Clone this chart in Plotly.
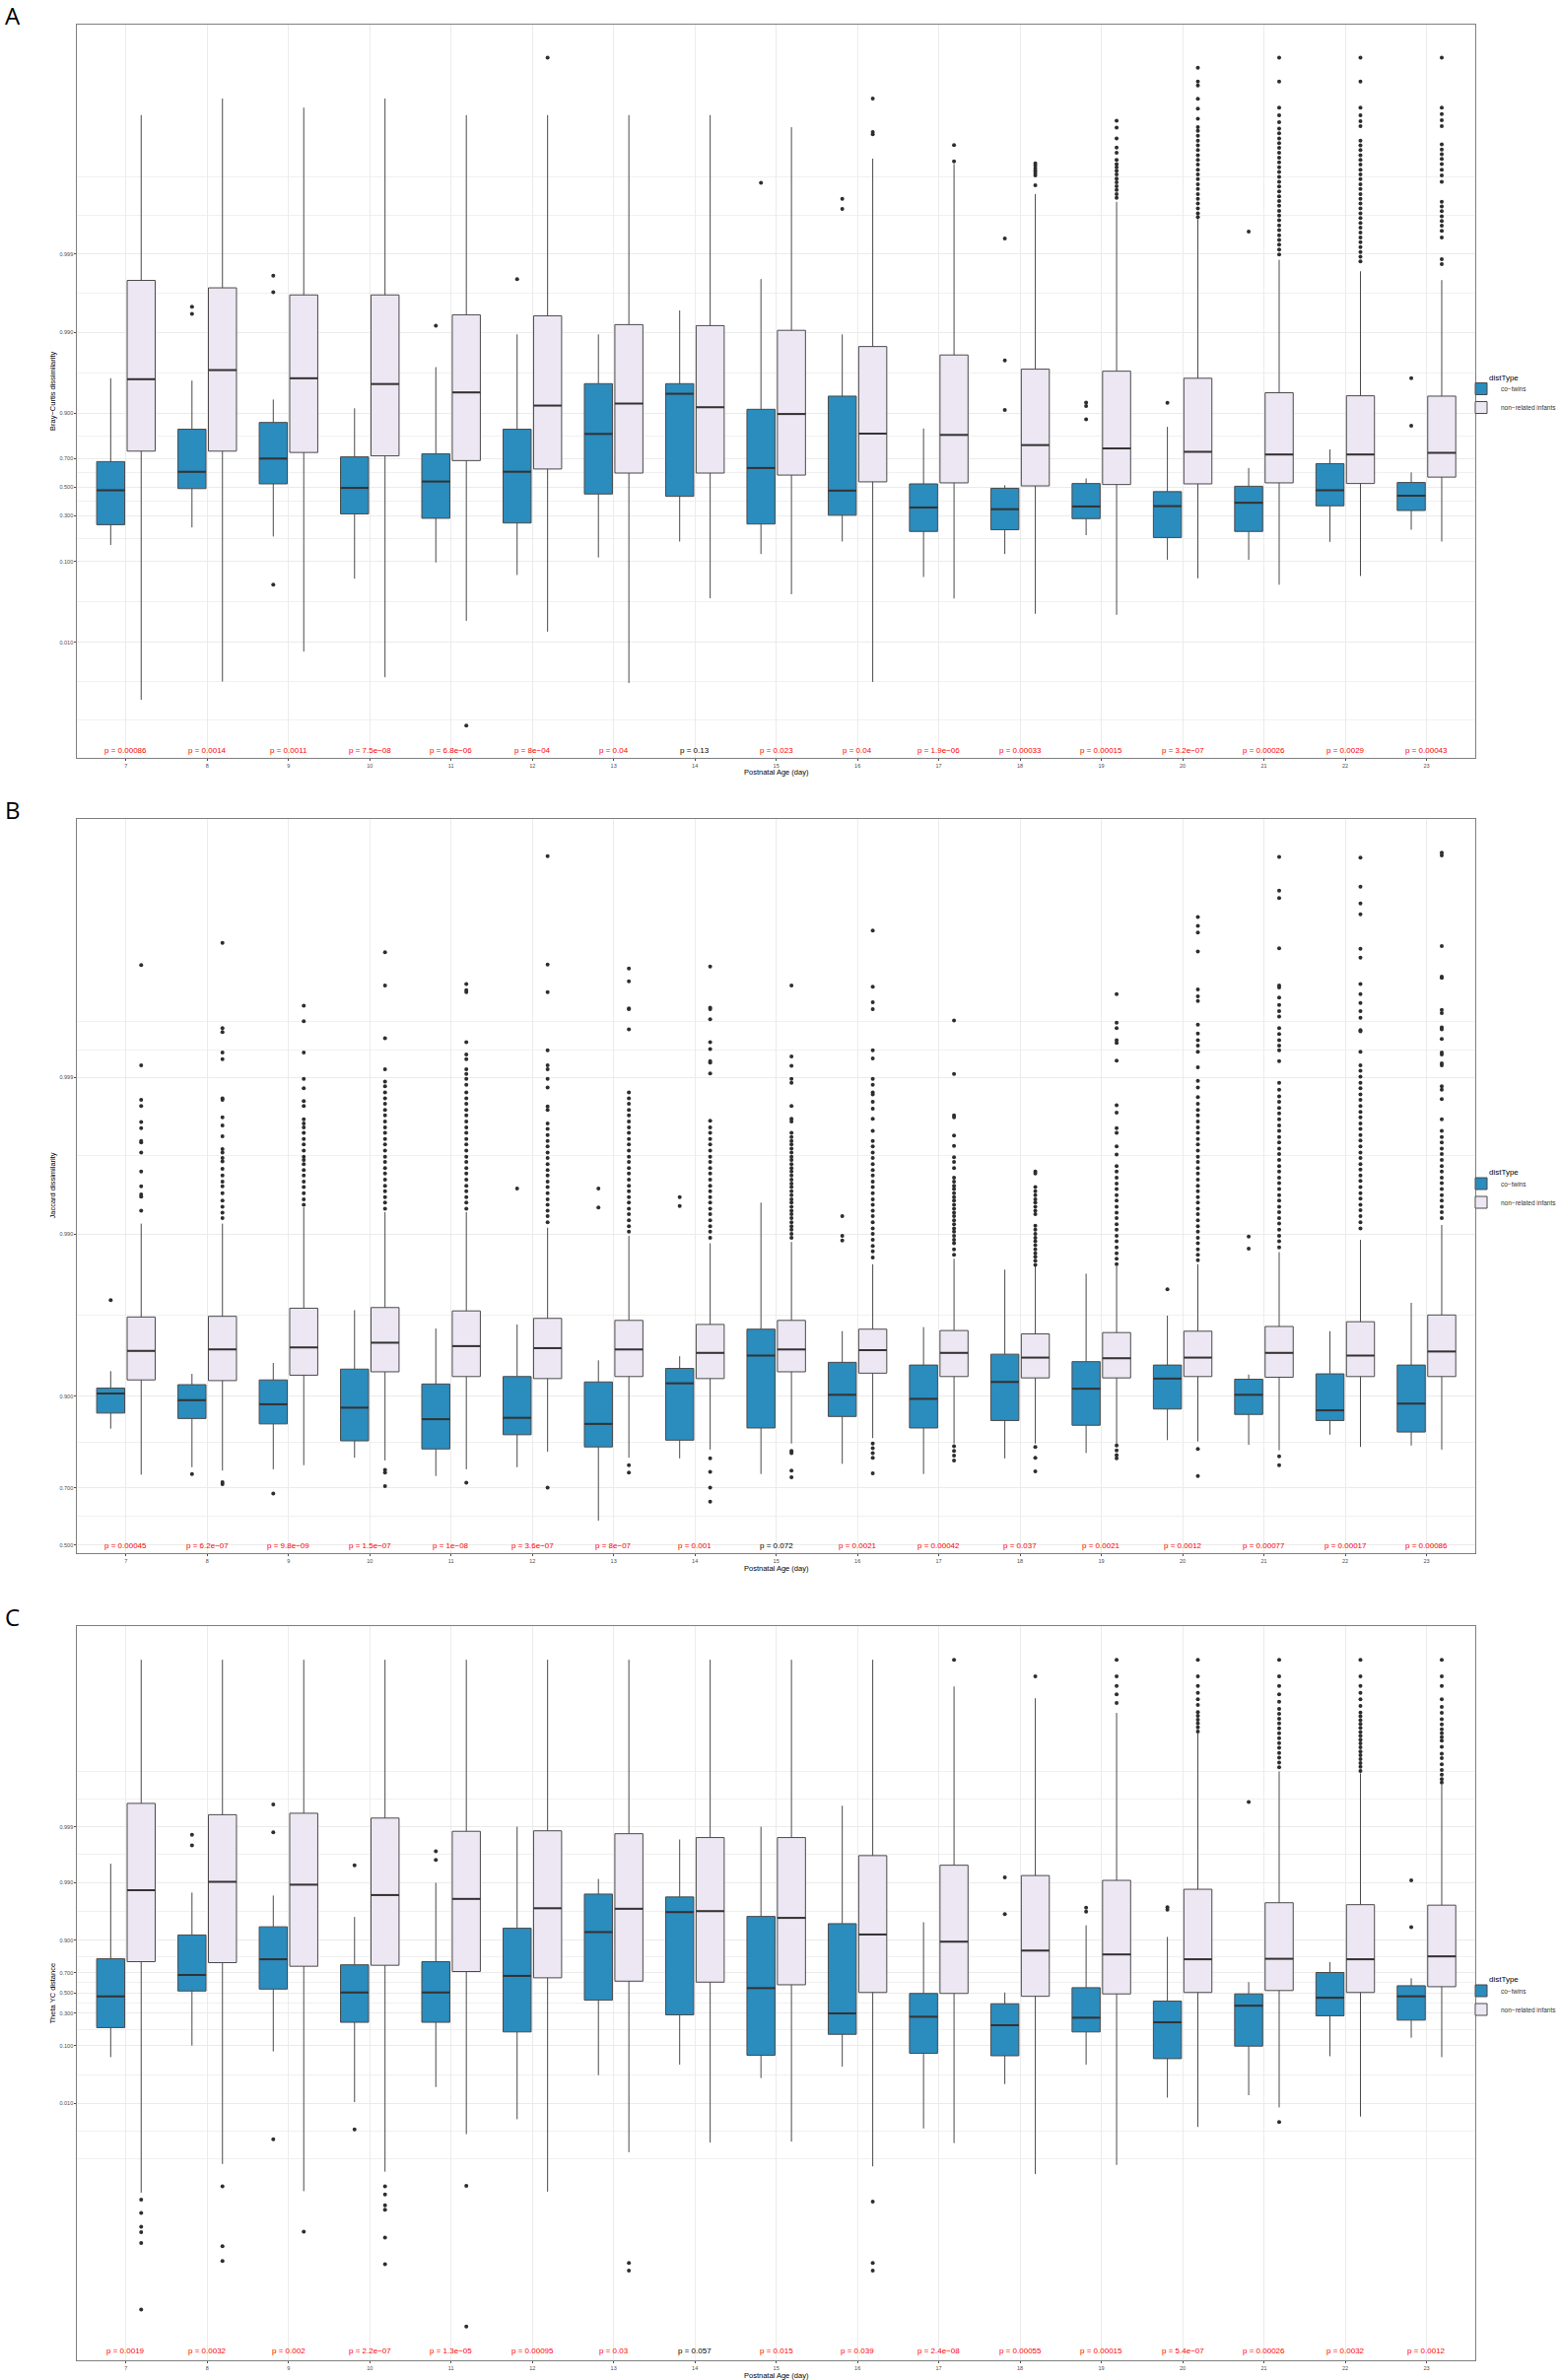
import numpy as np
import plotly.graph_objects as go

days = list(range(7, 24))
groups = ["co−twins", "non−related infants"]
group_fill = ["#2B8CBE", "#ECE7F2"]

# Box statistics are read on the logit axis, i.e. log(d / (1 - d))

# ---- A: Bray-Curtis dissimilarity ----
bc_twin_hi = [3.23, 3.16, 2.60, 2.34, 3.56, 4.53, 4.53, 5.24, 6.17, 4.53, 1.74, 0.06, 0.26, 1.79, 0.57, 1.12, 0.44]
bc_twin_q3 = [0.76, 1.72, 1.92, 0.90, 0.99, 1.72, 3.07, 3.07, 2.31, 2.70, 0.10, -0.03, 0.11, -0.13, 0.03, 0.70, 0.14]
bc_twin_med = [-0.09, 0.46, 0.85, -0.02, 0.17, 0.46, 1.58, 2.77, 0.57, -0.10, -0.60, -0.65, -0.57, -0.56, -0.46, -0.09, -0.25]
bc_twin_q1 = [-1.11, -0.04, 0.10, -0.79, -0.92, -1.06, -0.20, -0.27, -1.09, -0.83, -1.31, -1.26, -0.93, -1.49, -1.31, -0.55, -0.69]
bc_twin_lo = [-1.71, -1.19, -1.46, -2.71, -2.23, -2.60, -2.08, -1.61, -1.98, -1.61, -2.66, -1.98, -1.42, -2.15, -2.15, -1.62, -1.26]
bc_twin_out = [[], [5.35, 5.14], [6.27, 5.78, -2.89], [], [4.79], [6.17], [], [], [9.02], [8.55, 8.25],
               [], [7.37, 3.76, 2.29], [2.51, 2.41, 2.01], [2.50], [7.58], [], [3.23, 1.82]]

bc_other_hi = [11.03, 11.52, 11.25, 11.52, 11.03, 11.03, 11.03, 11.03, 10.67, 9.74, 9.58, 8.69, 8.46, 7.95, 6.74, 6.40, 6.14]
bc_other_q3 = [6.13, 5.91, 5.70, 5.70, 5.11, 5.08, 4.82, 4.79, 4.65, 4.17, 3.92, 3.50, 3.44, 3.23, 2.80, 2.71, 2.70]
bc_other_med = [3.20, 3.47, 3.23, 3.06, 2.81, 2.42, 2.48, 2.37, 2.17, 1.59, 1.55, 1.25, 1.15, 1.05, 0.97, 0.97, 1.02]
bc_other_q1 = [1.07, 1.07, 1.03, 0.93, 0.79, 0.54, 0.42, 0.42, 0.36, 0.16, 0.13, 0.04, 0.08, 0.10, 0.13, 0.11, 0.30]
bc_other_lo = [-6.30, -5.76, -4.87, -5.63, -3.96, -4.28, -5.80, -3.29, -3.17, -5.77, -3.30, -3.75, -3.78, -2.70, -2.89, -2.63, -1.61]
bc_other_out = [
    [], [], [], [], [-7.06], [12.73], [], [], [],
    [11.52, 10.53, 10.46],
    [10.14, 9.66],
    [9.60, 9.53, 9.45, 9.38, 9.31, 9.24, 8.95],
    [10.86, 10.66, 10.34, 10.07, 9.91, 9.70, 9.58, 9.48, 9.38, 9.27, 9.15, 9.04, 8.92, 8.81, 8.69, 8.58],
    [12.43, 12.02, 11.91, 11.51, 11.22, 10.92, 10.67, 10.56, 10.42, 10.27, 10.13, 9.99, 9.84, 9.70, 9.56,
     9.41, 9.27, 9.13, 8.98, 8.84, 8.69, 8.55, 8.41, 8.26, 8.12, 8.01],
    [12.73, 12.02, 11.25, 11.02, 10.82, 10.63, 10.49, 10.34, 10.20, 10.06, 9.91, 9.77, 9.63, 9.48, 9.34, 9.20,
     9.05, 8.91, 8.77, 8.62, 8.48, 8.34, 8.19, 8.05, 7.91, 7.76, 7.62, 7.47, 7.33, 7.19, 7.04, 6.90],
    [12.73, 12.02, 11.25, 11.02, 10.85, 10.70, 10.27, 10.13, 9.99, 9.84, 9.70, 9.56, 9.41, 9.27, 9.13, 8.98,
     8.84, 8.69, 8.55, 8.41, 8.26, 8.12, 7.98, 7.83, 7.69, 7.55, 7.40, 7.26, 7.12, 6.97, 6.83, 6.69],
    [12.73, 11.25, 11.06, 10.88, 10.70, 10.16, 10.01, 9.87, 9.73, 9.58, 9.41, 9.24, 9.05, 8.46, 8.32, 8.18,
     8.03, 7.89, 7.75, 7.60, 7.40, 6.76, 6.61],
]
bc_pvalues = ["p = 0.00086", "p = 0.0014", "p = 0.0011", "p = 7.5e−08", "p = 6.8e−06", "p = 8e−04",
              "p = 0.04", "p = 0.13", "p = 0.023", "p = 0.04", "p = 1.9e−06", "p = 0.00033",
              "p = 0.00015", "p = 3.2e−07", "p = 0.00026", "p = 0.0029", "p = 0.00043"]

# ---- B: Jaccard dissimilarity ----
jac_twin_hi = [2.57, 2.53, 2.69, 3.47, 3.20, 3.26, 2.73, 2.79, 5.06, 3.16, 3.22, 4.07, 4.01, 3.39, 2.52, 3.16, 3.58]
jac_twin_q3 = [2.32, 2.37, 2.44, 2.60, 2.38, 2.49, 2.41, 2.61, 3.19, 2.70, 2.66, 2.82, 2.71, 2.66, 2.45, 2.53, 2.66]
jac_twin_med = [2.24, 2.14, 2.08, 2.03, 1.86, 1.88, 1.79, 2.39, 2.80, 2.22, 2.16, 2.41, 2.31, 2.46, 2.22, 1.99, 2.09]
jac_twin_q1 = [1.95, 1.87, 1.79, 1.54, 1.42, 1.63, 1.45, 1.55, 1.73, 1.90, 1.73, 1.84, 1.77, 2.01, 1.93, 1.84, 1.67]
jac_twin_lo = [1.72, 1.15, 1.12, 1.29, 1.02, 1.15, 0.36, 1.28, 1.05, 1.20, 1.05, 1.28, 1.36, 1.55, 1.48, 1.63, 1.47]
jac_twin_out = [[3.62], [1.05], [0.76], [], [], [5.27], [5.27, 4.99], [5.14, 5.01], [], [4.86, 4.57, 4.50],
                [], [], [], [3.78], [4.56, 4.38], [], []]

jac_other_hi = [4.75, 4.75, 4.99, 4.92, 4.92, 4.69, 4.57, 4.46, 4.48, 4.15, 4.23, 4.12, 4.12, 4.15, 4.33, 4.51, 4.73]
jac_other_q3 = [3.37, 3.38, 3.50, 3.51, 3.46, 3.35, 3.32, 3.26, 3.32, 3.19, 3.17, 3.12, 3.14, 3.16, 3.23, 3.30, 3.40]
jac_other_med = [2.87, 2.89, 2.92, 2.99, 2.94, 2.91, 2.89, 2.84, 2.89, 2.88, 2.84, 2.77, 2.76, 2.77, 2.84, 2.80, 2.86]
jac_other_q1 = [2.44, 2.43, 2.51, 2.56, 2.49, 2.46, 2.49, 2.46, 2.56, 2.54, 2.49, 2.47, 2.47, 2.49, 2.48, 2.49, 2.49]
jac_other_lo = [1.04, 1.10, 1.18, 1.25, 1.12, 1.38, 1.29, 1.41, 1.50, 1.58, 1.50, 1.50, 1.48, 1.53, 1.40, 1.45, 1.41]
jac_other_out = [
    [8.57, 7.09, 6.58, 6.49, 6.25, 6.16, 5.97, 5.95, 5.80, 5.52, 5.30, 5.18, 5.15, 4.94],
    [8.90, 7.64, 7.58, 7.28, 7.18, 6.60, 6.58, 6.32, 6.20, 6.04, 5.85, 5.80, 5.72, 5.67, 5.56, 5.46, 5.37,
     5.30, 5.20, 5.09, 5.00, 4.91, 4.83, 0.93, 0.90],
    [7.97, 7.74, 7.28, 6.89, 6.75, 6.56, 6.49, 6.29, 6.23, 6.17, 6.09, 6.00, 5.92, 5.83, 5.74, 5.69, 5.63,
     5.54, 5.46, 5.37, 5.29, 5.20, 5.11, 5.03],
    [8.76, 8.27, 7.49, 7.03, 6.85, 6.78, 6.69, 6.60, 6.52, 6.43, 6.35, 6.26, 6.17, 6.09, 6.00, 5.92, 5.83,
     5.74, 5.66, 5.57, 5.49, 5.40, 5.31, 5.23, 5.14, 5.06, 4.97, 1.11, 1.07, 0.87],
    [8.29, 8.20, 8.17, 7.43, 7.25, 7.18, 7.03, 6.96, 6.89, 6.80, 6.69, 6.60, 6.52, 6.43, 6.35, 6.26, 6.17,
     6.09, 6.00, 5.92, 5.83, 5.74, 5.66, 5.57, 5.49, 5.40, 5.31, 5.23, 5.14, 5.06, 4.97, 0.92],
    [10.18, 8.58, 8.17, 7.31, 7.09, 7.03, 6.89, 6.76, 6.48, 6.43, 6.23, 6.15, 6.06, 5.97, 5.89, 5.80, 5.72,
     5.63, 5.54, 5.46, 5.37, 5.29, 5.20, 5.11, 5.03, 4.94, 4.86, 4.77, 0.85],
    [8.52, 8.33, 7.93, 7.92, 7.62, 6.69, 6.60, 6.52, 6.43, 6.35, 6.26, 6.17, 6.09, 6.00, 5.92, 5.83, 5.74,
     5.66, 5.57, 5.49, 5.40, 5.31, 5.23, 5.14, 5.06, 4.97, 4.89, 4.80, 4.71, 4.63, 1.18, 1.07],
    [8.55, 7.94, 7.92, 7.77, 7.43, 7.33, 7.15, 7.13, 6.97, 6.27, 6.17, 6.09, 6.00, 5.92, 5.83, 5.74, 5.66,
     5.57, 5.49, 5.40, 5.31, 5.23, 5.14, 5.06, 4.97, 4.89, 4.80, 4.71, 4.63, 4.54, 1.28, 1.08, 0.85, 0.64],
    [8.27, 7.22, 7.08, 6.89, 6.83, 6.49, 6.30, 6.26, 6.09, 6.03, 5.97, 5.92, 5.86, 5.80, 5.74, 5.69, 5.63,
     5.57, 5.52, 5.46, 5.40, 5.34, 5.29, 5.23, 5.17, 5.11, 5.06, 5.00, 4.94, 4.89, 4.83, 4.77, 4.71, 4.66,
     4.60, 4.54, 1.39, 1.36, 1.10, 1.00],
    [9.08, 8.25, 8.02, 7.92, 7.31, 7.19, 6.89, 6.80, 6.69, 6.66, 6.55, 6.45, 6.30, 6.12, 5.97, 5.89, 5.80,
     5.72, 5.63, 5.54, 5.46, 5.37, 5.29, 5.20, 5.11, 5.03, 4.94, 4.86, 4.77, 4.68, 4.60, 4.51, 4.42, 4.34,
     4.25, 1.50, 1.43, 1.36, 1.29, 1.06],
    [7.75, 6.96, 6.35, 6.32, 6.05, 5.90, 5.73, 5.66, 5.57, 5.43, 5.37, 5.31, 5.26, 5.20, 5.14, 5.09, 5.03,
     4.97, 4.91, 4.86, 4.80, 4.74, 4.68, 4.63, 4.57, 4.51, 4.46, 4.37, 4.29, 1.46, 1.39, 1.32, 1.25],
    [5.52, 5.49, 5.29, 5.23, 5.17, 5.11, 5.06, 5.00, 4.94, 4.89, 4.72, 4.66, 4.60, 4.54, 4.49, 4.43, 4.37,
     4.31, 4.26, 4.20, 4.14, 1.45, 1.29, 1.09],
    [8.14, 7.72, 7.64, 7.46, 7.42, 7.16, 6.50, 6.39, 6.16, 6.09, 5.89, 5.77, 5.60, 5.52, 5.43, 5.34, 5.26,
     5.17, 5.09, 5.00, 4.91, 4.83, 4.74, 4.66, 4.57, 4.49, 4.40, 4.31, 4.23, 4.15, 1.47, 1.40, 1.33, 1.28],
    [9.28, 9.15, 9.05, 8.77, 8.21, 8.11, 8.04, 7.69, 7.56, 7.46, 7.38, 7.29, 7.06, 6.86, 6.76, 6.62, 6.52,
     6.43, 6.35, 6.26, 6.17, 6.09, 6.00, 5.92, 5.83, 5.74, 5.66, 5.57, 5.49, 5.40, 5.31, 5.23, 5.14, 5.06,
     4.97, 4.89, 4.80, 4.71, 4.63, 4.54, 4.46, 4.37, 4.29, 4.21, 1.42, 1.02],
    [10.17, 9.67, 9.56, 8.82, 8.27, 8.24, 8.09, 7.98, 7.89, 7.81, 7.64, 7.55, 7.46, 7.38, 7.31, 7.15, 6.83,
     6.73, 6.63, 6.55, 6.46, 6.38, 6.29, 6.20, 6.12, 6.03, 5.95, 5.86, 5.78, 5.69, 5.60, 5.52, 5.43, 5.35,
     5.26, 5.17, 5.09, 5.00, 4.92, 4.83, 4.75, 4.66, 4.57, 4.49, 4.40, 1.31, 1.18],
    [10.16, 9.73, 9.48, 9.32, 8.81, 8.68, 8.29, 8.14, 8.01, 7.89, 7.79, 7.61, 7.59, 7.29, 7.09, 7.01, 6.92,
     6.83, 6.75, 6.66, 6.58, 6.49, 6.40, 6.32, 6.23, 6.15, 6.06, 5.98, 5.89, 5.80, 5.72, 5.63, 5.55, 5.46,
     5.38, 5.29, 5.20, 5.12, 5.03, 4.95, 4.86, 4.77, 4.68],
    [10.23, 10.19, 8.85, 8.40, 8.38, 7.91, 7.86, 7.65, 7.62, 7.48, 7.28, 7.25, 7.12, 7.09, 6.78, 6.73, 6.59,
     6.29, 6.12, 6.03, 5.95, 5.86, 5.78, 5.69, 5.60, 5.52, 5.43, 5.35, 5.26, 5.17, 5.09, 5.00, 4.92, 4.83],
]
jac_pvalues = ["p = 0.00045", "p = 6.2e−07", "p = 9.8e−09", "p = 1.5e−07", "p = 1e−08", "p = 3.6e−07",
               "p = 8e−07", "p = 0.001", "p = 0.072", "p = 0.0021", "p = 0.00042", "p = 0.037",
               "p = 0.0021", "p = 0.0012", "p = 0.00077", "p = 0.00017", "p = 0.00086"]

# ---- C: Theta YC distance ----
tyc_twin_hi = [5.37, 4.17, 4.05, 3.16, 4.58, 6.91, 4.74, 6.38, 6.91, 7.78, 2.94, 0.02, 2.81, 2.33, 0.45, 1.28, 0.61]
tyc_twin_q3 = [1.42, 2.41, 2.75, 1.17, 1.30, 2.69, 4.11, 3.99, 3.18, 2.88, -0.02, -0.45, 0.22, -0.34, -0.04, 0.85, 0.30]
tyc_twin_med = [-0.14, 0.75, 1.40, 0.02, 0.02, 0.71, 2.53, 3.36, 0.20, -0.85, -0.99, -1.34, -1.03, -1.22, -0.53, -0.20, -0.14]
tyc_twin_q1 = [-1.44, 0.08, 0.16, -1.22, -1.22, -1.62, -0.30, -0.91, -2.59, -1.72, -2.51, -2.61, -1.62, -2.73, -2.21, -0.95, -1.13]
tyc_twin_lo = [-2.67, -2.19, -2.43, -4.54, -3.91, -5.25, -3.42, -2.98, -3.54, -3.06, -5.63, -3.79, -2.98, -4.35, -4.25, -2.63, -1.86]
tyc_twin_out = [[], [6.58, 6.14], [7.84, 6.68, -6.08], [5.31, -5.67], [5.89, 5.53], [], [], [], [], [],
                [], [4.80, 3.28], [3.54, 3.38], [3.56, 3.46], [7.94], [], [4.68, 2.73]]

tyc_other_hi = [13.85, 13.85, 13.85, 13.85, 13.85, 13.85, 13.85, 13.85, 13.85, 13.85, 12.74, 12.25, 11.64, 10.79, 9.21, 9.13, 8.67]
tyc_other_q3 = [7.88, 7.41, 7.47, 7.27, 6.72, 6.74, 6.62, 6.46, 6.46, 5.71, 5.31, 4.88, 4.68, 4.31, 3.75, 3.67, 3.65]
tyc_other_med = [4.27, 4.62, 4.50, 4.07, 3.91, 3.52, 3.50, 3.40, 3.12, 2.43, 2.13, 1.76, 1.60, 1.40, 1.42, 1.40, 1.52]
tyc_other_q1 = [1.30, 1.26, 1.11, 1.15, 0.89, 0.63, 0.49, 0.45, 0.34, 0.02, -0.02, -0.14, -0.04, 0.02, 0.10, 0.02, 0.26]
tyc_other_lo = [-8.30, -7.11, -8.24, -7.43, -5.87, -8.26, -6.62, -6.22, -6.18, -7.21, -6.24, -7.53, -7.15, -5.57, -4.76, -5.14, -2.67]
tyc_other_out = [
    [-8.59, -9.15, -9.72, -9.94, -10.39, -13.16],
    [-8.04, -10.53, -11.14],
    [-9.92],
    [-8.04, -8.38, -8.83, -9.01, -10.17, -11.28],
    [-8.02, -13.87],
    [],
    [-11.22, -11.54],
    [],
    [],
    [-8.67, -11.22, -11.54],
    [13.85],
    [13.16],
    [13.85, 13.16, 12.76, 12.41, 12.05],
    [13.85, 13.16, 12.76, 12.47, 12.21, 11.97, 11.68, 11.52, 11.36, 11.20, 11.04, 10.87],
    [13.85, 13.16, 12.76, 12.41, 12.11, 11.81, 11.60, 11.40, 11.20, 11.00, 10.79, 10.59, 10.39, 10.19, 9.98,
     9.78, 9.58, 9.38, -5.37],
    [13.85, 13.16, 12.76, 12.47, 12.21, 11.93, 11.66, 11.50, 11.34, 11.18, 11.02, 10.85, 10.69, 10.53, 10.37,
     10.21, 10.04, 9.88, 9.72, 9.56, 9.40, 9.23],
    [13.85, 13.16, 12.76, 12.21, 11.89, 11.64, 11.38, 11.16, 10.96, 10.79, 10.63, 10.49, 10.23, 9.94, 9.76,
     9.50, 9.27, 9.07, 8.89, 8.75],
]
tyc_pvalues = ["p = 0.0019", "p = 0.0032", "p = 0.002", "p = 2.2e−07", "p = 1.3e−05", "p = 0.00095",
               "p = 0.03", "p = 0.057", "p = 0.015", "p = 0.039", "p = 2.4e−08", "p = 0.00055",
               "p = 0.00015", "p = 5.4e−07", "p = 0.00026", "p = 0.0032", "p = 0.0012"]

# axis breaks (probabilities)
wide_labels = [0.01, 0.1, 0.3, 0.5, 0.7, 0.9, 0.99, 0.999]
wide_grid = [0.001, 0.01, 0.1, 0.3, 0.5, 0.7, 0.9, 0.99, 0.999, 0.9999]
jac_labels = [0.5, 0.7, 0.9, 0.99, 0.999]
jac_grid = [0.5, 0.7, 0.9, 0.99, 0.999]
jac_extra_grid = [7.32, 7.74]


def logit(p):
    p = np.asarray(p, dtype=float)
    return np.log(p / (1 - p))


W, H = 1584, 2415
X_LEFT, X_RIGHT = 78.3, 1497
OFFSET, BOX_W = 0.1875, 0.345
LINE = "#4A4A4A"
FONT = "Liberation Sans, Arial, sans-serif"

panels = [
    dict(letter="A", title="Bray−Curtis dissimilarity", top=25, bottom=769, yrange=[-8.02, 13.71], pv_y=-7.81,
         stats=[(bc_twin_hi, bc_twin_q3, bc_twin_med, bc_twin_q1, bc_twin_lo, bc_twin_out),
                (bc_other_hi, bc_other_q3, bc_other_med, bc_other_q1, bc_other_lo, bc_other_out)],
         pvalues=bc_pvalues, labels=wide_labels, grid=wide_grid, extra=[]),
    dict(letter="B", title="Jaccard dissimilarity", top=831, bottom=1576, yrange=[-0.12, 10.73], pv_y=-0.01,
         stats=[(jac_twin_hi, jac_twin_q3, jac_twin_med, jac_twin_q1, jac_twin_lo, jac_twin_out),
                (jac_other_hi, jac_other_q3, jac_other_med, jac_other_q1, jac_other_lo, jac_other_out)],
         pvalues=jac_pvalues, labels=jac_labels, grid=jac_grid, extra=jac_extra_grid),
    dict(letter="C", title="Theta YC distance", top=1650, bottom=2395, yrange=[-15.27, 15.25], pv_y=-14.90,
         stats=[(tyc_twin_hi, tyc_twin_q3, tyc_twin_med, tyc_twin_q1, tyc_twin_lo, tyc_twin_out),
                (tyc_other_hi, tyc_other_q3, tyc_other_med, tyc_other_q1, tyc_other_lo, tyc_other_out)],
         pvalues=tyc_pvalues, labels=wide_labels, grid=wide_grid, extra=[]),
]

fig = go.Figure()
annotations = []
layout = {}

for i, pan in enumerate(panels):
    sfx = "" if i == 0 else str(i + 1)
    xa, ya = "x" + sfx, "y" + sfx
    leg = "legend" + sfx
    for g, (hi, q3, med, q1, lo, out) in enumerate(pan["stats"]):
        off = -OFFSET if g == 0 else OFFSET
        pos = [d + off for d in days]
        fig.add_trace(go.Box(
            x=pos, q1=q1, median=med, q3=q3, lowerfence=lo, upperfence=hi,
            width=BOX_W, whiskerwidth=0, boxpoints=False,
            fillcolor=group_fill[g], line=dict(color=LINE, width=1),
            name=groups[g], legend=leg, xaxis=xa, yaxis=ya, hoverinfo="skip",
        ))
        # thicker median bar, as in ggplot
        mx, my = [], []
        for p, m in zip(pos, med):
            mx += [p - BOX_W / 2, p + BOX_W / 2, None]
            my += [m, m, None]
        fig.add_trace(go.Scatter(x=mx, y=my, mode="lines", line=dict(color="#333333", width=2),
                                 showlegend=False, xaxis=xa, yaxis=ya, hoverinfo="skip"))
        ox, oy = [], []
        for p, vals in zip(pos, out):
            ox += [p] * len(vals)
            oy += vals
        fig.add_trace(go.Scatter(x=ox, y=oy, mode="markers", marker=dict(color="#2E2E2E", size=4),
                                 showlegend=False, xaxis=xa, yaxis=ya, hoverinfo="skip"))

    # p-value labels
    for d, txt in zip(days, pan["pvalues"]):
        pv = float(txt.split("=")[1].replace("−", "-"))
        annotations.append(dict(x=d, y=pan["pv_y"], xref=xa, yref=ya, text=txt, showarrow=False,
                                font=dict(size=8, color="#FF0000" if pv < 0.05 else "#000000", family=FONT)))

    grid_pos = logit(pan["grid"])
    label_pos = logit(pan["labels"])
    minor_pos = list((grid_pos[:-1] + grid_pos[1:]) / 2)
    minor_pos += [v for v in grid_pos if not np.any(np.isclose(v, label_pos))]
    minor_pos += pan["extra"]

    y0 = 1 - pan["bottom"] / H
    y1 = 1 - pan["top"] / H
    layout["xaxis" + sfx] = dict(
        domain=[X_LEFT / W, X_RIGHT / W], anchor=ya, range=[6.4, 23.6],
        tickmode="array", tickvals=days, ticktext=[str(d) for d in days],
        tickfont=dict(size=5.5, color="#4D4D4D", family=FONT),
        ticks="outside", ticklen=2, tickcolor="#4D4D4D",
        showgrid=True, gridcolor="#EBEBEB", gridwidth=1, zeroline=False,
        showline=True, mirror=True, linecolor="#7F7F7F", linewidth=1, automargin=False,
    )
    layout["yaxis" + sfx] = dict(
        domain=[y0, y1], anchor=xa, range=pan["yrange"],
        tickmode="array", tickvals=list(label_pos), ticktext=[f"{p:.3f}" for p in pan["labels"]],
        tickfont=dict(size=5.5, color="#4D4D4D", family=FONT),
        ticks="outside", ticklen=2, tickcolor="#4D4D4D",
        showgrid=True, gridcolor="#EBEBEB", gridwidth=1, zeroline=False,
        minor=dict(tickmode="array", tickvals=minor_pos, showgrid=True, gridcolor="#F0F0F0",
                   gridwidth=0.8, ticklen=0),
        showline=True, mirror=True, linecolor="#7F7F7F", linewidth=1, automargin=False,
    )
    mid = (pan["top"] + pan["bottom"]) / 2
    layout[leg] = dict(x=1483 / W, y=1 - (mid + 7) / H, xanchor="left", yanchor="middle",
                       bgcolor="rgba(0,0,0,0)", font=dict(size=6.5, color="#333333", family=FONT),
                       title=dict(text=""), tracegroupgap=0)
    # panel letter, axis titles, legend title
    annotations.append(dict(x=3 / W, y=1 - (pan["top"] - 10) / H, xref="paper", yref="paper",
                            text=pan["letter"], showarrow=False, xanchor="left", yanchor="middle",
                            font=dict(size=24, color="black", family="Open Sans, sans-serif")))
    annotations.append(dict(x=53 / W, y=1 - mid / H, xref="paper", yref="paper", text=pan["title"],
                            textangle=-90, showarrow=False, xanchor="center", yanchor="middle",
                            font=dict(size=7.5, color="black", family=FONT)))
    annotations.append(dict(x=(X_LEFT + X_RIGHT) / 2 / W, y=1 - (pan["bottom"] + 15) / H,
                            xref="paper", yref="paper", text="Postnatal Age (day)", showarrow=False,
                            xanchor="center", yanchor="middle",
                            font=dict(size=7.5, color="black", family=FONT)))
    annotations.append(dict(x=1509 / W, y=1 - (mid - 14) / H, xref="paper", yref="paper",
                            text="distType", showarrow=False, xanchor="left", yanchor="middle",
                            font=dict(size=8, color="black", family=FONT)))

fig.update_layout(
    width=W, height=H, template="none",
    margin=dict(l=0, r=0, t=0, b=0, autoexpand=False),
    paper_bgcolor="white", plot_bgcolor="white",
    boxmode="overlay", showlegend=True,
    annotations=annotations, **layout,
)

# the page's default body margin would push the fixed-size figure off by 8px
fig.write_html("out.html", config={"displayModeBar": False},
               post_script="document.body.style.margin = '0px';")
